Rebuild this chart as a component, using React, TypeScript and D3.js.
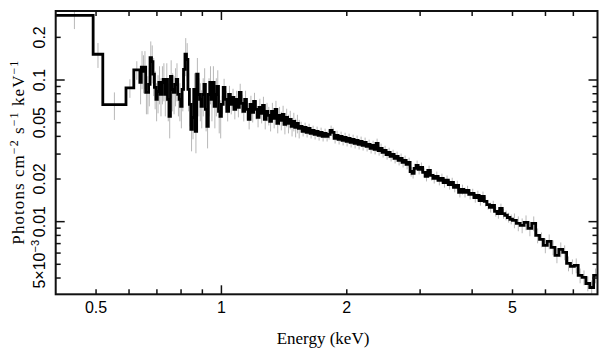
import React from 'react';
import * as d3 from 'd3';

// ---- data ----
const xDomain: [number, number] = [0.4, 8];
const yDomain: [number, number] = [0.00307, 0.307];

// explicit low-energy bins
const lowEdges = [0.4, 0.492, 0.519, 0.59, 0.616, 0.637];
const lowValues = [0.286, 0.152, 0.067, 0.088, 0.118];
const lowErrors = [0.2, 0.2, 0.22, 0.15, 0.15];

// grouped bins: energy range + values (photons cm^-2 s^-1 keV^-1)
const segB = { lo: 0.637, hi: 1.0, err: 0.3, values: [
  0.0962, 0.123, 0.115, 0.123, 0.0818, 0.0818, 0.0931, 0.144, 0.135, 0.110,
  0.0887, 0.0730, 0.0831, 0.0962, 0.0791, 0.0962, 0.101, 0.0791, 0.101, 0.0730,
  0.0553, 0.106, 0.0858, 0.0818, 0.0931, 0.101, 0.0791, 0.0730, 0.0651, 0.0858,
  0.119, 0.152, 0.140, 0.0858, 0.0673, 0.0448, 0.0545, 0.0858, 0.0434, 0.110,
  0.0791, 0.0730, 0.0651, 0.0791, 0.0931, 0.0620, 0.0470, 0.0791, 0.0962, 0.0730,
  0.0962, 0.0651, 0.0791, 0.0901, 0.0600, 0.0553] };
const segC = { lo: 1.0, hi: 1.545, err: 0.15, values: [
  0.0673, 0.0887, 0.0730, 0.0600, 0.0791, 0.0673, 0.0754, 0.0620, 0.0730, 0.0641,
  0.0818, 0.0684, 0.0600, 0.0730, 0.0620, 0.0527, 0.0673, 0.0590, 0.0706, 0.0620,
  0.0545, 0.0641, 0.0581, 0.0662, 0.0527, 0.0600, 0.0562, 0.0510, 0.0600, 0.0536,
  0.0620, 0.0494, 0.0562, 0.0519, 0.0572, 0.0486, 0.0545, 0.0494, 0.0527, 0.0470,
  0.0510, 0.0463, 0.0494, 0.0455] };
const segD = { lo: 1.545, hi: 3.0, err: 0.08, values: [
  0.0470, 0.0434, 0.0463, 0.0427, 0.0455, 0.0420, 0.0441, 0.0413, 0.0434, 0.0406,
  0.0427, 0.0400, 0.0420, 0.0400, 0.0413, 0.0441, 0.0427, 0.0387, 0.0406, 0.0381,
  0.0400, 0.0375, 0.0393, 0.0369, 0.0387, 0.0363, 0.0381, 0.0357, 0.0375, 0.0351,
  0.0369, 0.0345, 0.0363, 0.0340, 0.0351, 0.0329, 0.0345, 0.0324, 0.0357, 0.0318,
  0.0329, 0.0308, 0.0318, 0.0298, 0.0308, 0.0289, 0.0298, 0.0280, 0.0289, 0.0271,
  0.0280, 0.0262, 0.0271, 0.0254, 0.0262, 0.0226, 0.0219, 0.0238, 0.0250, 0.0234] };
const segE = { lo: 3.0, hi: 5.0, err: 0.08, values: [
  0.0242, 0.0223, 0.0209, 0.0230, 0.0212, 0.0202, 0.0209, 0.0196, 0.0202, 0.0189,
  0.0196, 0.0183, 0.0189, 0.0175, 0.0180, 0.0161, 0.0169, 0.0161, 0.0166, 0.0156,
  0.0158, 0.0148, 0.0153, 0.0141, 0.0151, 0.0139, 0.0132, 0.0126, 0.0130, 0.0118,
  0.0114, 0.0124, 0.0114, 0.0111, 0.0107, 0.0104] };
const segF = { lo: 5.0, hi: 8.0, err: 0.12, values: [
  0.0102, 0.00972, 0.00941, 0.00988, 0.00896, 0.00972, 0.00799, 0.00749, 0.00680, 0.00725,
  0.00658, 0.00578, 0.00637, 0.00607, 0.00507, 0.00483, 0.00491, 0.00417, 0.00404, 0.00366,
  0.00343, 0.00417] };

const xLabelTicks = [0.5, 1, 2, 5];
const xLabelTexts = ['0.5', '1', '2', '5'];
const xMajorTicks = [1];
const xMinorTicks = [0.5, 0.6, 0.7, 0.8, 0.9, 2, 3, 4, 5, 6, 7];
const yLabelTicks = [0.2, 0.1, 0.05, 0.02, 0.01, 0.005];
const yLabelTexts = ['0.2', '0.1', '0.05', '0.02', '0.01', '5×10'];
const yMajorTicks = [0.1, 0.01];
const yMinorTicks = [0.004, 0.005, 0.006, 0.007, 0.008, 0.009, 0.02, 0.03, 0.04, 0.05, 0.06, 0.07, 0.08, 0.09, 0.2];

type Bin = { lo: number; hi: number; v: number; e: number };

function buildBins(): Bin[] {
  const bins: Bin[] = [];
  for (let i = 0; i < lowValues.length; i++) {
    bins.push({ lo: lowEdges[i], hi: lowEdges[i + 1], v: lowValues[i], e: lowErrors[i] });
  }
  for (const s of [segB, segC, segD, segE, segF]) {
    const n = s.values.length;
    const lg0 = Math.log10(s.lo), lg1 = Math.log10(s.hi);
    s.values.forEach((v, i) => {
      const lo = Math.pow(10, lg0 + (lg1 - lg0) * i / n);
      const hi = Math.pow(10, lg0 + (lg1 - lg0) * (i + 1) / n);
      bins.push({ lo, hi, v, e: s.err });
    });
  }
  return bins;
}

const L = 55.7, R = 597.5, T = 11, B = 294.3;

export default function App() {
  const x = d3.scaleLog().domain(xDomain).range([L, R]);
  const y = d3.scaleLog().domain(yDomain).range([B, T]);
  const bins = buildBins();

  let path = '';
  bins.forEach((b, i) => {
    const x0 = x(b.lo), x1 = x(b.hi), yy = y(b.v);
    if (i === 0) path += `M${x0},${yy}`;
    else path += `V${yy}`;
    path += `H${x1}`;
  });

  const sans = "'Liberation Sans', Arial, Helvetica, sans-serif";
  const serif = "'Liberation Serif', 'Times New Roman', serif";
  const axisColor = '#111';
  const minorLen = 5, majorLen = 9;

  return (
    <div style={{ position: 'absolute', left: 0, top: 0 }}>
      <svg width={609} height={357} viewBox="0 0 609 357" style={{ display: 'block', background: '#fff' }}>
        <defs>
          <clipPath id="plot">
            <rect x={L} y={T} width={R - L} height={B - T} />
          </clipPath>
        </defs>
        <g clipPath="url(#plot)">
          {bins.map((b, i) => {
            const xc = x(Math.sqrt(b.lo * b.hi));
            const lo = Math.max(b.v * (1 - b.e), yDomain[0] * 0.5);
            const hi = b.v * (1 + b.e);
            return <line key={i} x1={xc} x2={xc} y1={y(lo)} y2={y(hi)} stroke="#b8b8b8" strokeWidth={1} />;
          })}
          <path d={path} fill="none" stroke="#000" strokeWidth={2.8} strokeLinejoin="miter" />
        </g>
        {/* ticks */}
        <g stroke={axisColor} strokeWidth={1.5}>
          {xMinorTicks.map((t, i) => (
            <g key={'xm' + i}>
              <line x1={x(t)} x2={x(t)} y1={B} y2={B - minorLen} />
              <line x1={x(t)} x2={x(t)} y1={T} y2={T + minorLen} />
            </g>
          ))}
          {xMajorTicks.map((t, i) => (
            <g key={'xM' + i}>
              <line x1={x(t)} x2={x(t)} y1={B} y2={B - majorLen} />
              <line x1={x(t)} x2={x(t)} y1={T} y2={T + majorLen} />
            </g>
          ))}
          {yMinorTicks.map((t, i) => (
            <g key={'ym' + i}>
              <line x1={L} x2={L + minorLen} y1={y(t)} y2={y(t)} />
              <line x1={R} x2={R - minorLen} y1={y(t)} y2={y(t)} />
            </g>
          ))}
          {yMajorTicks.map((t, i) => (
            <g key={'yM' + i}>
              <line x1={L} x2={L + majorLen} y1={y(t)} y2={y(t)} />
              <line x1={R} x2={R - majorLen} y1={y(t)} y2={y(t)} />
            </g>
          ))}
        </g>
        <rect x={L} y={T} width={R - L} height={B - T} fill="none" stroke={axisColor} strokeWidth={2} />
        {/* x tick labels */}
        {xLabelTicks.map((t, i) => (
          <text key={'xl' + i} x={x(t)} y={313.3} textAnchor="middle" fontFamily={sans} fontSize={16} fill="#000">
            {xLabelTexts[i]}
          </text>
        ))}
        {/* y tick labels */}
        {yLabelTicks.map((t, i) => (
          <text key={'yl' + i} transform={`translate(45,${y(t)}) rotate(-90)`} textAnchor="middle" fontFamily={sans} fontSize={16} fill="#000">
            {yLabelTexts[i]}
            {i === yLabelTicks.length - 1 ? <tspan dy={-6} fontSize={11}>−3</tspan> : null}
          </text>
        ))}
        {/* axis titles */}
        <text x={323} y={344} textAnchor="middle" fontFamily={serif} fontSize={17} fill="#000">Energy (keV)</text>
        <text transform={`translate(24,${(T + B) / 2}) rotate(-90)`} textAnchor="middle" fontFamily={serif} fontSize={17} fill="#000"
          textLength={184} lengthAdjust="spacing">
          Photons cm<tspan dy={-6} fontSize={12}>−2</tspan><tspan dy={6}> s</tspan><tspan dy={-6} fontSize={12}>−1</tspan><tspan dy={6}> keV</tspan><tspan dy={-6} fontSize={12}>−1</tspan>
        </text>
      </svg>
    </div>
  );
}
